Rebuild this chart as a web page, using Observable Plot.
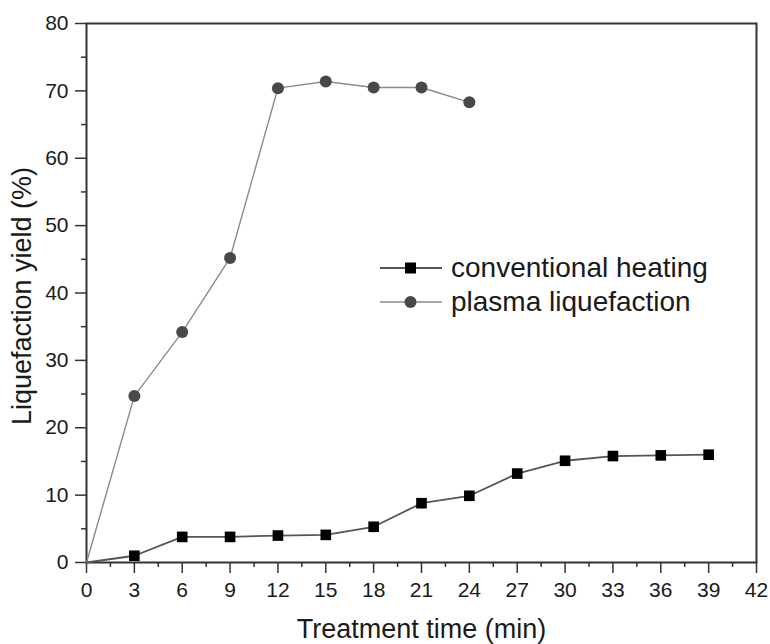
<!DOCTYPE html>
<html><head><meta charset="utf-8">
<script src="https://cdn.jsdelivr.net/npm/d3@7"></script>
<script src="https://cdn.jsdelivr.net/npm/@observablehq/plot@0.6"></script>
<style>
body{margin:0;background:#fff;}
#wrap{position:relative;width:770px;height:644px;font-family:"Liberation Sans",Arial,sans-serif;}
#legend{position:absolute;left:379px;top:251px;font-size:28px;color:#1a1a1a;line-height:1;}
.row{display:flex;align-items:center;height:34px;}
.row svg{margin-right:8px;flex:none;}
svg g[aria-label$="tick label"] text{font-size:21px !important;}
</style></head>
<body><div id="wrap"><div id="legend"></div></div>
<script>
const times = [0,3,6,9,12,15,18,21,24,27,30,33,36,39];
const conventional = [0,1.0,3.8,3.8,4.0,4.1,5.3,8.8,9.9,13.2,15.1,15.8,15.9,16.0];
const plasmaTimes = [0,3,6,9,12,15,18,21,24];
const plasma = [0,24.7,34.2,45.2,70.4,71.4,70.5,70.5,68.3];
const xTicks = [0,3,6,9,12,15,18,21,24,27,30,33,36,39,42];
const xMinor = [1.5,4.5,7.5,10.5,13.5,16.5,19.5,22.5,25.5,28.5,31.5,34.5,37.5,40.5];
const yTicks = [0,10,20,30,40,50,60,70,80];
const yMinor = [5,15,25,35,45,55,65,75];
const seriesNames = ["conventional heating","plasma liquefaction"];

const conv = times.map((t,i)=>({t, v: conventional[i]}));
const pl = plasmaTimes.map((t,i)=>({t, v: plasma[i]}));

const chart = Plot.plot({
  width: 770, height: 644,
  marginLeft: 86, marginRight: 14, marginTop: 23, marginBottom: 82,
  style: {fontFamily: '"Liberation Sans", Arial, sans-serif', fontSize: "21px", color: "#1a1a1a", background: "#fff"},
  x: {domain: [0,42]},
  y: {domain: [0,80]},
  marks: [
    Plot.frame({stroke: "#333", strokeWidth: 2}),
    Plot.axisX({ticks: xMinor, tickSize: 5, tickFormat: () => "", stroke: "#333", strokeWidth: 1.5, label: null}),
    Plot.axisX({ticks: xTicks, tickSize: 11, tickPadding: 9, stroke: "#333", strokeWidth: 1.5, fontSize: 21, label: null}),
    Plot.axisY({ticks: yMinor, tickSize: 5, tickFormat: () => "", stroke: "#333", strokeWidth: 1.5, label: null}),
    Plot.axisY({ticks: yTicks, tickSize: 11, tickPadding: 7, stroke: "#333", strokeWidth: 1.5, fontSize: 21, label: null}),
    Plot.line(pl, {x: "t", y: "v", stroke: "#8a8a8a", strokeWidth: 1.4}),
    Plot.line(conv, {x: "t", y: "v", stroke: "#555", strokeWidth: 1.8}),
    Plot.dot(pl.filter(d=>d.t>0), {x: "t", y: "v", r: 6, fill: "#484848", stroke: "none"}),
    Plot.dot(conv.filter(d=>d.t>0), {x: "t", y: "v", symbol: "square", r: 6, fill: "#000", stroke: "none"}),
    Plot.text(["Treatment time (min)"], {frameAnchor: "bottom", dy: 75, fontSize: 27, fill: "#1a1a1a"}),
    Plot.text(["Liquefaction yield (%)"], {frameAnchor: "left", textAnchor: "middle", dx: -64, dy: 3, rotate: -90, fontSize: 27, fill: "#1a1a1a"})
  ]
});
d3.select(chart).selectAll('g[aria-label$="tick label"]').style("font-size", "21px").selectAll("text").style("font-size", "21px");
document.getElementById("wrap").prepend(chart);
chart.style.position = "absolute"; chart.style.left = "0"; chart.style.top = "0";

const leg = document.getElementById("legend");
const styles = [
  {line: "#555", lw: 2, mark: '<rect x="26" y="11.5" width="11" height="11" fill="#000"/>'},
  {line: "#8a8a8a", lw: 1.4, mark: '<circle cx="31.5" cy="17" r="6" fill="#484848"/>'}
];
seriesNames.forEach((name,i)=>{
  const r = document.createElement("div"); r.className = "row";
  r.innerHTML = `<svg width="64" height="34"><line x1="1" x2="63" y1="17" y2="17" stroke="${styles[i].line}" stroke-width="${styles[i].lw}"/>${styles[i].mark}</svg><span>${name}</span>`;
  leg.appendChild(r);
});
</script></body></html>
